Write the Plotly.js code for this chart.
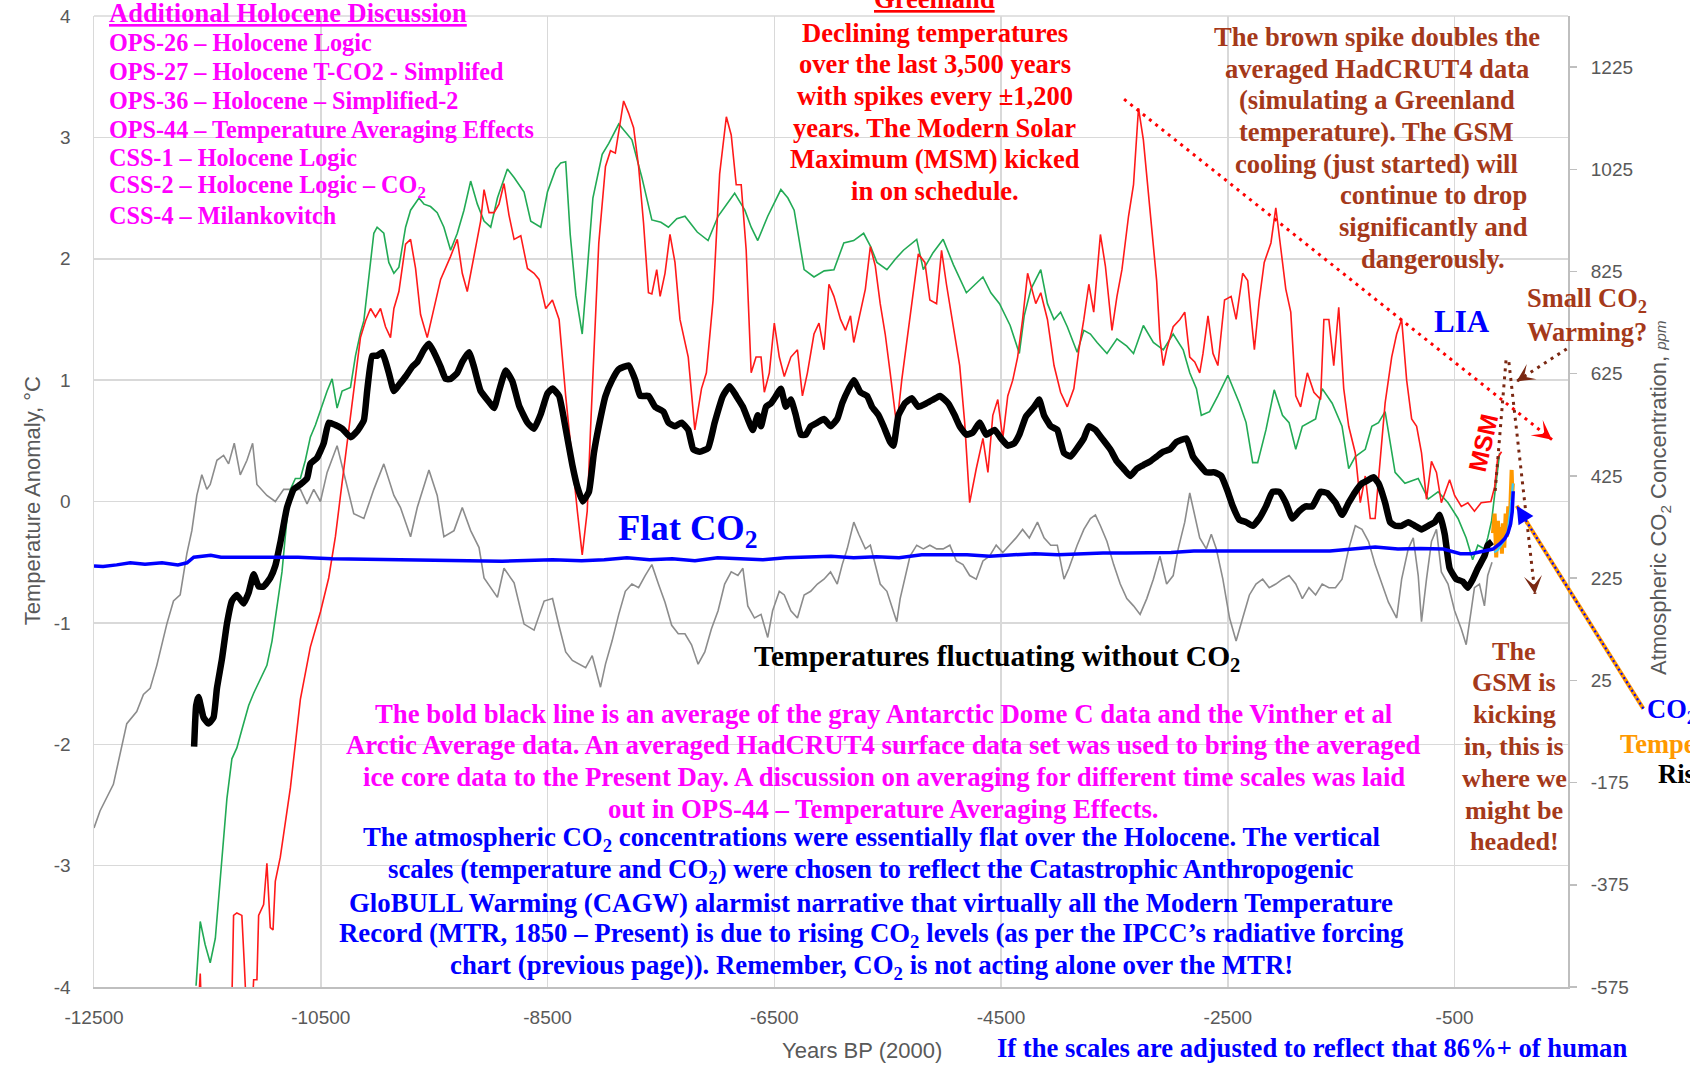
<!DOCTYPE html>
<html><head><meta charset="utf-8">
<script src="https://cdn.plot.ly/plotly-3.0.1.min.js"></script>
<style>html,body{margin:0;padding:0;background:#fff;} #chart{width:1690px;height:1067px;}</style>
</head><body><div id="chart"></div>
<script>
// ---------------- DATA (years BP(2000), temperature anomaly °C / CO2 ppm) ----------------
const domeC = [[-12500,-2.69],[-12447,-2.55],[-12329,-2.33],[-12270,-2.07],[-12211,-1.83],[-12123,-1.73],[-12064,-1.59],[-12005,-1.54],[-11946,-1.35],[-11858,-1.01],[-11799,-0.82],[-11740,-0.77],[-11681,-0.43],[-11637,-0.24],[-11593,0.05],[-11549,0.22],[-11505,0.10],[-11475,0.14],[-11416,0.34],[-11357,0.38],[-11313,0.31],[-11263,0.48],[-11210,0.22],[-11151,0.34],[-11101,0.48],[-11063,0.14],[-10975,0.05],[-10901,0.00],[-10827,0.10],[-10768,0.10],[-10680,0.10],[-10621,-0.02],[-10562,0.10],[-10503,0.00],[-10444,0.24],[-10356,0.46],[-10297,0.24],[-10209,-0.10],[-10120,-0.14],[-10032,0.10],[-9944,0.31],[-9855,0.05],[-9797,-0.05],[-9708,-0.29],[-9649,-0.05],[-9546,0.26],[-9473,0.05],[-9414,-0.29],[-9325,-0.24],[-9252,-0.05],[-9178,-0.24],[-9104,-0.38],[-9060,-0.63],[-8942,-0.79],[-8884,-0.55],[-8795,-0.67],[-8707,-1.01],[-8619,-1.06],[-8530,-0.82],[-8456,-0.80],[-8400,-1.02],[-8340,-1.24],[-8281,-1.31],[-8223,-1.34],[-8164,-1.37],[-8106,-1.27],[-8033,-1.53],[-7989,-1.34],[-7931,-1.15],[-7872,-0.93],[-7814,-0.74],[-7756,-0.68],[-7697,-0.71],[-7639,-0.61],[-7580,-0.52],[-7522,-0.68],[-7464,-0.83],[-7405,-1.02],[-7347,-1.09],[-7288,-1.09],[-7230,-1.18],[-7172,-1.34],[-7113,-1.24],[-7055,-1.05],[-6996,-0.90],[-6938,-0.68],[-6880,-0.58],[-6821,-0.61],[-6777,-0.55],[-6734,-0.86],[-6675,-0.96],[-6617,-0.93],[-6558,-1.12],[-6515,-0.90],[-6456,-0.74],[-6412,-0.77],[-6354,-0.90],[-6296,-0.96],[-6237,-0.77],[-6179,-0.74],[-6120,-0.68],[-6062,-0.64],[-6004,-0.58],[-5945,-0.68],[-5901,-0.52],[-5857,-0.39],[-5799,-0.17],[-5755,-0.27],[-5697,-0.39],[-5653,-0.36],[-5609,-0.52],[-5566,-0.68],[-5507,-0.74],[-5463,-0.86],[-5420,-0.99],[-5390,-0.80],[-5361,-0.68],[-5303,-0.45],[-5244,-0.36],[-5186,-0.39],[-5128,-0.36],[-5069,-0.39],[-5011,-0.39],[-4952,-0.36],[-4894,-0.49],[-4836,-0.52],[-4777,-0.61],[-4719,-0.64],[-4660,-0.49],[-4602,-0.45],[-4543,-0.36],[-4485,-0.42],[-4427,-0.36],[-4368,-0.30],[-4310,-0.23],[-4251,-0.30],[-4179,-0.17],[-4121,-0.30],[-4062,-0.36],[-4004,-0.36],[-3945,-0.64],[-3902,-0.55],[-3829,-0.36],[-3770,-0.23],[-3712,-0.14],[-3668,-0.11],[-3624,-0.20],[-3566,-0.33],[-3507,-0.52],[-3449,-0.68],[-3391,-0.80],[-3332,-0.86],[-3274,-0.93],[-3215,-0.80],[-3157,-0.64],[-3099,-0.45],[-3040,-0.68],[-2982,-0.61],[-2938,-0.39],[-2880,-0.17],[-2836,0.07],[-2792,-0.11],[-2748,-0.30],[-2690,-0.39],[-2646,-0.27],[-2602,-0.39],[-2544,-0.64],[-2485,-0.96],[-2427,-1.15],[-2369,-0.96],[-2310,-0.77],[-2252,-0.68],[-2193,-0.64],[-2135,-0.71],[-2077,-0.68],[-2018,-0.64],[-1960,-0.61],[-1901,-0.68],[-1843,-0.80],[-1785,-0.71],[-1726,-0.77],[-1668,-0.68],[-1609,-0.71],[-1551,-0.71],[-1493,-0.64],[-1434,-0.39],[-1376,-0.20],[-1317,-0.23],[-1259,-0.33],[-1201,-0.52],[-1142,-0.68],[-1084,-0.83],[-1011,-0.96],[-967,-0.64],[-909,-0.39],[-865,-0.30],[-821,-0.61],[-792,-0.99],[-748,-0.64],[-704,-0.33],[-660,-0.23],[-617,-0.58],[-558,-0.68],[-500,-0.90],[-441,-1.05],[-398,-1.18],[-354,-0.90],[-325,-0.71],[-281,-0.68],[-237,-0.86],[-208,-0.61],[-170,-0.50]];

const vintherArctic = [[-11600,-3.99],[-11563,-3.46],[-11520,-3.65],[-11475,-3.80],[-11430,-3.60],[-11372,-2.98],[-11328,-2.45],[-11284,-2.12],[-11240,-2.03],[-11196,-1.88],[-11136,-1.68],[-11092,-1.58],[-11033,-1.47],[-10975,-1.35],[-10930,-1.15],[-10886,-0.87],[-10842,-0.58],[-10798,-0.14],[-10768,0.10],[-10724,0.19],[-10680,0.19],[-10636,0.34],[-10592,0.53],[-10547,0.63],[-10503,0.75],[-10444,0.91],[-10400,1.01],[-10356,0.77],[-10312,0.91],[-10238,0.94],[-10194,1.20],[-10150,1.39],[-10120,1.49],[-10076,1.83],[-10032,2.21],[-10003,2.26],[-9944,2.21],[-9900,1.97],[-9855,1.88],[-9811,1.93],[-9752,2.26],[-9708,2.40],[-9634,2.50],[-9590,2.45],[-9532,2.43],[-9473,2.38],[-9414,2.26],[-9355,2.07],[-9296,2.21],[-9237,2.40],[-9178,2.64],[-9119,2.45],[-9060,2.31],[-9001,2.26],[-8942,2.50],[-8854,2.74],[-8795,2.67],[-8707,2.55],[-8648,2.31],[-8560,2.26],[-8501,2.55],[-8427,2.74],[-8383,2.79],[-8340,2.80],[-8300,2.20],[-8250,1.70],[-8194,1.38],[-8150,1.90],[-8100,2.50],[-8018,2.86],[-7960,2.95],[-7872,3.11],[-7756,2.98],[-7668,2.67],[-7580,2.32],[-7500,2.30],[-7434,2.26],[-7360,2.33],[-7288,2.35],[-7180,2.22],[-7084,2.15],[-6996,2.35],[-6920,2.45],[-6850,2.54],[-6760,2.40],[-6704,2.26],[-6646,2.15],[-6558,2.35],[-6442,2.57],[-6380,2.50],[-6325,2.40],[-6237,1.91],[-6150,1.85],[-6060,1.90],[-5974,1.91],[-5887,2.13],[-5800,2.15],[-5712,2.21],[-5650,2.10],[-5595,1.97],[-5507,1.91],[-5430,2.00],[-5361,2.07],[-5244,2.16],[-5186,1.91],[-5100,2.05],[-5011,2.16],[-4920,1.95],[-4806,1.72],[-4660,1.85],[-4590,1.72],[-4514,1.63],[-4420,1.45],[-4339,1.22],[-4296,1.53],[-4237,1.75],[-4150,1.91],[-4091,1.63],[-4033,1.50],[-3975,1.56],[-3916,1.44],[-3829,1.23],[-3770,1.41],[-3712,1.38],[-3653,1.31],[-3566,1.22],[-3478,1.34],[-3391,1.28],[-3332,1.22],[-3245,1.45],[-3157,1.31],[-3069,1.25],[-2982,1.38],[-2894,1.25],[-2836,1.06],[-2777,0.93],[-2734,0.71],[-2661,0.74],[-2588,0.87],[-2500,1.04],[-2398,0.81],[-2339,0.65],[-2281,0.32],[-2237,0.32],[-2164,0.59],[-2091,0.92],[-2018,0.71],[-1960,0.65],[-1901,0.43],[-1843,0.62],[-1726,0.68],[-1668,0.93],[-1580,0.81],[-1493,0.62],[-1434,0.27],[-1376,0.37],[-1288,0.43],[-1230,0.62],[-1171,0.65],[-1113,0.74],[-1025,0.24],[-938,0.15],[-821,0.19],[-733,0.02],[-646,0.08],[-558,-0.01],[-470,-0.14],[-398,-0.30],[-341,-0.48],[-295,-0.36],[-237,-0.39],[-208,-0.30],[-174,-0.16],[-130,0.17],[-103,0.40]];

const greenland = [[-11600,-4.5],[-11563,-3.89],[-11545,-4.4],[-11400,-4.6],[-11290,-4.4],[-11269,-3.41],[-11240,-3.39],[-11196,-3.41],[-11175,-3.80],[-11150,-4.3],[-11110,-4.3],[-11092,-3.94],[-11063,-3.94],[-11048,-3.41],[-11004,-3.32],[-10975,-2.98],[-10945,-3.51],[-10921,-3.53],[-10901,-3.13],[-10857,-2.93],[-10768,-2.36],[-10680,-1.63],[-10592,-1.20],[-10503,-0.91],[-10430,-0.63],[-10371,-0.29],[-10326,0.05],[-10282,0.38],[-10238,0.72],[-10194,1.01],[-10150,1.35],[-10105,1.49],[-10061,1.59],[-10017,1.52],[-9973,1.59],[-9929,1.44],[-9885,1.35],[-9855,1.59],[-9811,1.73],[-9752,2.12],[-9708,2.16],[-9664,1.92],[-9620,1.54],[-9561,1.35],[-9502,1.59],[-9443,1.83],[-9355,2.02],[-9296,2.16],[-9252,1.88],[-9208,1.73],[-9149,2.02],[-9090,2.31],[-9060,2.57],[-9016,2.38],[-8972,2.38],[-8928,2.45],[-8884,2.62],[-8840,2.36],[-8795,2.16],[-8736,2.19],[-8677,1.92],[-8619,1.88],[-8575,1.83],[-8516,1.59],[-8457,1.66],[-8398,1.50],[-8340,0.87],[-8281,0.30],[-8237,-0.08],[-8194,-0.44],[-8150,-0.08],[-8121,0.59],[-8091,1.19],[-8048,2.13],[-7989,2.76],[-7945,2.89],[-7902,2.87],[-7858,3.14],[-7829,3.30],[-7785,3.20],[-7741,3.08],[-7697,2.76],[-7653,2.29],[-7610,1.72],[-7580,1.71],[-7537,1.91],[-7507,1.69],[-7464,1.88],[-7420,2.20],[-7376,1.97],[-7332,1.50],[-7259,1.19],[-7201,0.59],[-7142,0.93],[-7099,1.06],[-7040,1.66],[-6982,2.70],[-6923,3.17],[-6880,3.02],[-6836,2.61],[-6792,2.61],[-6748,2.07],[-6704,1.06],[-6661,1.19],[-6617,1.19],[-6588,0.90],[-6544,1.06],[-6500,1.47],[-6456,1.19],[-6412,1.03],[-6354,1.19],[-6296,1.25],[-6252,0.87],[-6208,1.06],[-6150,1.38],[-6106,1.47],[-6062,1.25],[-6018,1.79],[-5974,1.69],[-5916,1.50],[-5872,1.41],[-5828,1.53],[-5799,1.31],[-5755,1.50],[-5697,1.75],[-5653,2.10],[-5609,1.94],[-5566,1.63],[-5522,1.38],[-5478,1.06],[-5420,0.62],[-5376,1.00],[-5317,1.44],[-5274,1.72],[-5230,2.04],[-5172,1.97],[-5128,1.66],[-5069,1.63],[-5025,2.07],[-4982,1.79],[-4923,1.47],[-4865,1.12],[-4821,0.65],[-4777,-0.01],[-4719,0.27],[-4660,0.52],[-4616,0.24],[-4573,0.71],[-4529,0.84],[-4485,0.52],[-4441,0.87],[-4397,1.00],[-4354,1.19],[-4310,1.50],[-4266,1.88],[-4194,1.63],[-4150,1.72],[-4091,1.50],[-4033,1.12],[-3975,0.90],[-3916,0.78],[-3858,0.93],[-3814,1.25],[-3770,1.50],[-3726,1.79],[-3683,1.56],[-3624,2.20],[-3580,1.94],[-3522,1.41],[-3478,1.69],[-3434,1.91],[-3376,2.35],[-3332,2.61],[-3288,3.24],[-3245,2.98],[-3172,2.29],[-3128,1.82],[-3099,1.34],[-3069,1.12],[-3040,1.25],[-2982,1.44],[-2923,1.50],[-2880,1.56],[-2836,1.19],[-2792,1.15],[-2748,1.06],[-2719,1.22],[-2675,1.53],[-2631,1.22],[-2588,1.12],[-2529,1.66],[-2471,1.69],[-2427,1.50],[-2369,1.88],[-2325,1.82],[-2266,1.25],[-2223,1.66],[-2179,1.97],[-2120,2.13],[-2077,2.42],[-2033,2.10],[-1989,1.75],[-1945,1.56],[-1901,0.87],[-1858,0.78],[-1799,1.06],[-1741,0.90],[-1682,0.84],[-1653,1.50],[-1609,1.50],[-1566,1.12],[-1522,1.60],[-1478,0.93],[-1434,0.62],[-1376,0.40],[-1332,-0.01],[-1288,0.21],[-1244,-0.14],[-1201,-0.14],[-1157,0.37],[-1113,0.81],[-1055,1.19],[-1011,1.38],[-967,1.50],[-923,1.00],[-879,0.68],[-835,0.62],[-792,0.40],[-748,0.02],[-704,0.33],[-660,0.24],[-617,-0.01],[-544,0.18],[-500,0.05],[-441,-0.04],[-383,-0.01],[-325,-0.08],[-266,-0.01],[-208,0.00],[-180,0.00],[-147,0.12],[-120,0.36],[-86,0.41]];

const boldAverage = [[-11617,-2.02],[-11599,-1.68],[-11578,-1.61],[-11534,-1.78],[-11490,-1.83],[-11446,-1.78],[-11416,-1.54],[-11372,-1.30],[-11328,-1.01],[-11284,-0.82],[-11240,-0.77],[-11181,-0.84],[-11136,-0.75],[-11092,-0.60],[-11048,-0.70],[-11004,-0.70],[-10945,-0.63],[-10901,-0.53],[-10857,-0.34],[-10798,-0.05],[-10739,0.10],[-10680,0.14],[-10621,0.19],[-10592,0.31],[-10533,0.36],[-10474,0.48],[-10430,0.65],[-10371,0.63],[-10312,0.60],[-10238,0.53],[-10179,0.58],[-10120,0.67],[-10091,0.91],[-10047,1.20],[-10003,1.20],[-9958,1.23],[-9900,1.06],[-9855,0.91],[-9811,0.96],[-9752,1.03],[-9693,1.11],[-9649,1.15],[-9590,1.25],[-9546,1.30],[-9502,1.23],[-9443,1.11],[-9399,1.01],[-9355,1.01],[-9296,1.06],[-9252,1.15],[-9193,1.23],[-9149,1.11],[-9090,0.91],[-9016,0.82],[-8972,0.77],[-8928,0.91],[-8869,1.08],[-8810,0.99],[-8751,0.79],[-8677,0.65],[-8619,0.60],[-8560,0.72],[-8501,0.89],[-8456,0.93],[-8398,0.87],[-8340,0.60],[-8281,0.30],[-8237,0.12],[-8190,0.00],[-8135,0.08],[-8091,0.40],[-8048,0.62],[-7989,0.87],[-7931,1.00],[-7872,1.09],[-7785,1.12],[-7726,1.00],[-7683,0.87],[-7610,0.87],[-7551,0.78],[-7478,0.74],[-7434,0.65],[-7376,0.62],[-7318,0.65],[-7259,0.59],[-7215,0.43],[-7157,0.41],[-7084,0.44],[-7026,0.65],[-6953,0.87],[-6894,0.95],[-6836,0.87],[-6777,0.78],[-6734,0.68],[-6690,0.59],[-6646,0.71],[-6617,0.62],[-6573,0.78],[-6529,0.81],[-6485,0.87],[-6442,0.93],[-6398,0.78],[-6354,0.84],[-6310,0.71],[-6266,0.55],[-6223,0.55],[-6179,0.62],[-6120,0.65],[-6062,0.68],[-6004,0.62],[-5945,0.68],[-5901,0.81],[-5843,0.93],[-5799,1.00],[-5741,0.90],[-5682,0.87],[-5638,0.78],[-5580,0.71],[-5536,0.62],[-5478,0.49],[-5449,0.46],[-5405,0.71],[-5347,0.81],[-5288,0.85],[-5230,0.78],[-5157,0.81],[-5098,0.84],[-5040,0.87],[-4967,0.81],[-4909,0.71],[-4865,0.62],[-4806,0.55],[-4748,0.57],[-4689,0.65],[-4631,0.55],[-4558,0.59],[-4500,0.52],[-4441,0.46],[-4383,0.48],[-4339,0.55],[-4281,0.70],[-4208,0.78],[-4164,0.84],[-4121,0.71],[-4062,0.62],[-4004,0.59],[-3945,0.40],[-3887,0.37],[-3829,0.44],[-3770,0.52],[-3726,0.62],[-3668,0.59],[-3610,0.52],[-3537,0.43],[-3478,0.33],[-3420,0.27],[-3361,0.21],[-3303,0.27],[-3245,0.30],[-3186,0.33],[-3128,0.37],[-3069,0.41],[-3011,0.43],[-2953,0.49],[-2865,0.52],[-2807,0.37],[-2748,0.30],[-2690,0.24],[-2617,0.24],[-2558,0.21],[-2500,0.08],[-2456,-0.04],[-2398,-0.15],[-2339,-0.17],[-2281,-0.20],[-2223,-0.14],[-2164,-0.04],[-2106,0.08],[-2047,0.08],[-1989,-0.01],[-1931,-0.14],[-1872,-0.08],[-1814,-0.04],[-1755,-0.04],[-1682,0.08],[-1624,0.07],[-1551,-0.01],[-1493,-0.11],[-1434,-0.01],[-1376,0.08],[-1317,0.15],[-1274,0.17],[-1215,0.20],[-1171,0.15],[-1113,-0.01],[-1069,-0.17],[-1025,-0.20],[-967,-0.20],[-909,-0.17],[-850,-0.20],[-792,-0.23],[-733,-0.20],[-675,-0.17],[-631,-0.11],[-587,-0.27],[-544,-0.55],[-485,-0.64],[-427,-0.66],[-383,-0.71],[-339,-0.64],[-295,-0.55],[-237,-0.45],[-208,-0.36],[-170,-0.33]];

const co2ppm = [[-12500,249],[-12420,248],[-12300,251],[-12180,255],[-12050,252],[-11900,255],[-11760,251],[-11680,255],[-11620,266],[-11470,270],[-11380,266],[-11000,266],[-10700,266],[-10400,263],[-9800,260],[-9500,260],[-8900,258],[-8456,261],[-8200,259],[-8000,261],[-7800,265],[-7600,261],[-7400,263],[-7200,259],[-7000,265],[-6800,263],[-6600,261],[-6400,265],[-6200,267],[-6000,268],[-5800,265],[-5600,267],[-5400,265],[-5200,271],[-5000,271],[-4800,271],[-4600,268],[-4400,271],[-4200,273],[-4000,271],[-3800,273],[-3600,274],[-3400,274],[-3200,275],[-3000,275],[-2800,278],[-2600,278],[-2400,278],[-2200,278],[-2000,279],[-1800,279],[-1600,278],[-1400,282],[-1200,286],[-1000,282],[-800,283],[-600,282],[-450,273],[-350,273],[-250,277],[-162,282],[-103,292],[-59,302],[-30,313],[-6,331],[8,355],[17,395]];

const hadcrutDoubled = [[-162,-0.26],[-147,-0.10],[-133,-0.46],[-118,-0.16],[-103,-0.38],[-94,-0.21],[-83,-0.43],[-74,-0.18],[-62,-0.38],[-50,-0.10],[-39,-0.29],[-27,-0.04],[-15,-0.21],[-6,0.18],[3,0.26],[9,0.07],[14,0.15]];
const hadcrutAveraged = [[-150,-0.42],[-120,-0.40],[-90,-0.36],[-60,-0.32],[-30,-0.24],[-10,-0.10],[5,0.05],[14,0.15]];

const xTickVals = [-12500,-10500,-8500,-6500,-4500,-2500,-500];
const xTickText = ['-12500','-10500','-8500','-6500','-4500','-2500','-500'];
const yTickVals = [-4,-3,-2,-1,0,1,2,3,4];
const yTickText = ['-4','-3','-2','-1','0','1','2','3','4'];
const y2TickVals = [-575,-375,-175,25,225,425,625,825,1025,1225];
const y2TickText = ['-575','-375','-175','25','225','425','625','825','1025','1225'];

// ---------------- TRACES ----------------
const xs = a => a.map(p => p[0]);
const ys = a => a.map(p => p[1]);
function line(data, color, width, extra) {
  return Object.assign({x: xs(data), y: ys(data), type: 'scatter', mode: 'lines',
    line: {color: color, width: width}, hoverinfo: 'skip'}, extra || {});
}
const traces = [
  line(domeC, '#8c8c8c', 1.6),
  line(vintherArctic, '#22aa55', 1.6),
  line(greenland, '#ff1a1a', 1.6),
  line(co2ppm, '#0000ff', 3.5, {yaxis: 'y2'}),
  line(boldAverage, '#000000', 6.5, {line: {color: '#000', width: 6.5, shape: 'spline', smoothing: 0.4}}),
  line(hadcrutDoubled, '#ff9900', 4),
  line(hadcrutAveraged, '#33ccff', 2.2)
];

// ---------------- LAYOUT GEOMETRY (pixel -> paper) ----------------
const M = {l: 94, r: 122, t: 16, b: 80};
const PW = 1690 - M.l - M.r, PH = 1067 - M.t - M.b;
const px = X => (X - M.l) / PW;
const py = Y => (1067 - M.b - Y) / PH;

const SERIF = 'Liberation Serif';
const SANS = 'Liberation Sans';
const BROWN = '#a5391a';
const DBROWN = '#7a2812';
function txt(X, Y, text, size, color, opts) {
  return Object.assign({xref: 'paper', yref: 'paper', x: px(X), y: py(Y), text: text, showarrow: false,
    xanchor: 'center', yanchor: 'middle', align: 'center',
    font: {family: SERIF, size: size, color: color}}, opts || {});
}
function block(X, Y0, step, lines, size, color, opts) {
  return lines.map((t, i) => txt(X, Y0 + i * step, '<b>' + t + '</b>', size, color, opts));
}
function head(X, Y, ax, ay, color, style, size) {
  return {xref: 'paper', yref: 'paper', x: px(X), y: py(Y), ax: ax, ay: ay, text: '', showarrow: true,
    arrowhead: style, arrowsize: size, arrowwidth: 2.5, arrowcolor: color, standoff: 0};
}
const L = {xanchor: 'left', align: 'left'};
const sansTitle = {font: {family: SANS, size: 22, color: '#595959'}};

const annotations = [].concat(
  [txt(107, 12.7, '<b><u>Additional Holocene Discussion</u></b>', 26.5, '#ff00ff', L)],
  block(107, 42.7, 28.8, ['OPS-26 – Holocene Logic', 'OPS-27 – Holocene T-CO2 - Simplifed',
    'OPS-36 – Holocene – Simplified-2', 'OPS-44 – Temperature Averaging Effects',
    'CSS-1 – Holocene Logic', 'CSS-2 – Holocene Logic – CO<sub>2</sub>', 'CSS-4 – Milankovitch'], 24.2, '#ff00ff', L),
  [txt(934.5, -1, '<b><u>Greenland</u></b>', 26.6, '#ff0000')],
  block(934.5, 32.8, 31.6, ['Declining temperatures', 'over the last 3,500 years', 'with spikes every ±1,200',
    'years. The Modern Solar', 'Maximum (MSM) kicked', 'in on schedule.'], 26.6, '#ff0000'),
  block(1376.5, 36.7, 31.8, ['The brown spike doubles the', 'averaged HadCRUT4 data', '(simulating a Greenland',
    'temperature). The GSM', 'cooling (just started) will'], 26.6, BROWN),
  block(1433.3, 195.5, 31.6, ['continue to drop', 'significantly and', 'dangerously.'], 26.6, BROWN),
  block(1587.5, 300, 31.7, ['Small CO<sub>2</sub>', 'Warming?'], 26.4, BROWN),
  [txt(1461.7, 321.7, '<b>LIA</b>', 31, '#0000ff'),
   txt(1483, 443, '<b>MSM</b>', 25, '#ff0000', {textangle: -77, font: {family: SANS, size: 25, color: '#ff0000'}}),
   txt(688.3, 530, '<b>Flat CO<sub>2</sub></b>', 36.5, '#0000ff'),
   txt(997, 657.5, '<b>Temperatures fluctuating without CO<sub>2</sub></b>', 29.5, '#000000')],
  block(883.8, 713.5, 31.95, ['The bold black line is an average of the gray Antarctic Dome C data and the Vinther et al',
    'Arctic Average data. An averaged HadCRUT4 surface data set was used to bring the averaged',
    'ice core data to the Present Day. A discussion on averaging for different time scales was laid',
    'out in OPS-44 – Temperature Averaging Effects.'], 26.8, '#ff00ff'),
  block(871.4, 838.5, 32.05, ['The atmospheric CO<sub>2</sub> concentrations were essentially flat over the Holocene. The vertical',
    'scales (temperature and CO<sub>2</sub>) were chosen to reflect the Catastrophic Anthropogenic',
    'GloBULL Warming (CAGW) alarmist narrative that virtually all the Modern Temperature',
    'Record (MTR, 1850 – Present) is due to rising CO<sub>2</sub> levels (as per the IPCC’s radiative forcing',
    'chart (previous page)). Remember, CO<sub>2</sub> is not acting alone over the MTR!'], 26.8, '#0000ff'),
  block(1514.3, 651, 31.8, ['The', 'GSM is', 'kicking', 'in, this is', 'where we', 'might be', 'headed!'], 26.2, BROWN),
  [txt(1645, 711.3, '<b>CO<sub>2</sub> and</b>', 26.5, '#0000ff', L),
   txt(1618, 743.7, '<b>Temperature</b>', 26.5, '#ff9900', L),
   txt(1656, 773.9, '<b>Rise</b>', 26.5, '#000000', L),
   txt(995, 1047.6, '<b>If the scales are adjusted to reflect that 86%+ of human</b>', 26.6, '#0000ff', L),
   // axis titles
   txt(862.2, 1050.8, 'Years BP (2000)', 22, '#595959', sansTitle),
   txt(32.3, 501, 'Temperature Anomaly, °C', 22, '#595959', Object.assign({textangle: -90}, sansTitle)),
   txt(1660, 498, 'Atmospheric CO<sub>2</sub> Concentration, <i><span style="font-size:15px">ppm</span></i>', 22, '#595959', Object.assign({textangle: -90}, sansTitle)),
   // arrow heads
   head(1552.0, 439.7, -8, -6.3, '#ff0000', 3, 1.3),
   head(1516.5, 381.4, 8.4, -5.4, DBROWN, 3, 1.2),
   head(1535.0, 593.9, -1.1, -9.9, DBROWN, 3, 1.2),
   head(1516.7, 505.8, 5.3, 8.5, '#0000ff', 2, 1.4)]
);

const DOTS = '3px,5px';
function seg(X0, Y0, X1, Y1, color, width, dash) {
  return {type: 'line', xref: 'paper', yref: 'paper', x0: px(X0), y0: py(Y0), x1: px(X1), y1: py(Y1),
    line: {color: color, width: width, dash: dash || 'solid'}, layer: 'above'};
}
const shapes = [
  {type: 'line', xref: 'paper', yref: 'paper', x0: 0, y0: 1, x1: 1, y1: 1, line: {color: '#d9d9d9', width: 1.5}},
  seg(1124.1, 99.2, 1552.0, 439.7, '#ff0000', 3, DOTS),
  seg(1566.7, 348.9, 1516.5, 381.4, DBROWN, 3, DOTS),
  seg(1506.0, 360.4, 1494.9, 494.3, DBROWN, 3, DOTS),
  seg(1508.9, 362.1, 1535.0, 593.9, DBROWN, 3, DOTS),
  seg(1643.3, 708.6, 1516.7, 505.8, '#ff9900', 4),
  seg(1643.3, 708.6, 1516.7, 505.8, '#0000ff', 2.2, '2px,3px')
];

const tickFont = {family: SANS, size: 19, color: '#595959'};
const layout = {
  width: 1690, height: 1067,
  margin: {l: M.l, r: M.r, t: M.t, b: M.b, pad: 0},
  paper_bgcolor: '#ffffff', plot_bgcolor: '#ffffff',
  showlegend: false,
  xaxis: {range: [-12500, 500], tickvals: xTickVals, ticktext: xTickText, showgrid: true,
    gridcolor: '#d9d9d9', gridwidth: 1.5, zeroline: false, showline: true, linecolor: '#bfbfbf',
    linewidth: 2, ticks: '', tickfont: tickFont, ticklabelstandoff: 12, fixedrange: true},
  yaxis: {range: [-4, 4], tickvals: yTickVals, ticktext: yTickText, showgrid: true,
    gridcolor: '#d9d9d9', gridwidth: 1.5, zeroline: false, showline: true, linecolor: '#d9d9d9',
    linewidth: 1.5, ticks: '', tickfont: tickFont, ticklabelstandoff: 18, fixedrange: true},
  yaxis2: {range: [-575, 1325], overlaying: 'y', side: 'right', tickvals: y2TickVals,
    ticktext: y2TickText, showgrid: false, zeroline: false, showline: true, linecolor: '#bfbfbf',
    linewidth: 2, ticks: 'outside', ticklen: 7, tickcolor: '#bfbfbf', tickwidth: 1.5,
    tickfont: tickFont, ticklabelstandoff: 10, fixedrange: true},
  annotations: annotations,
  shapes: shapes
};
Plotly.newPlot('chart', traces, layout, {displayModeBar: false, staticPlot: true});
</script>
</body></html>
